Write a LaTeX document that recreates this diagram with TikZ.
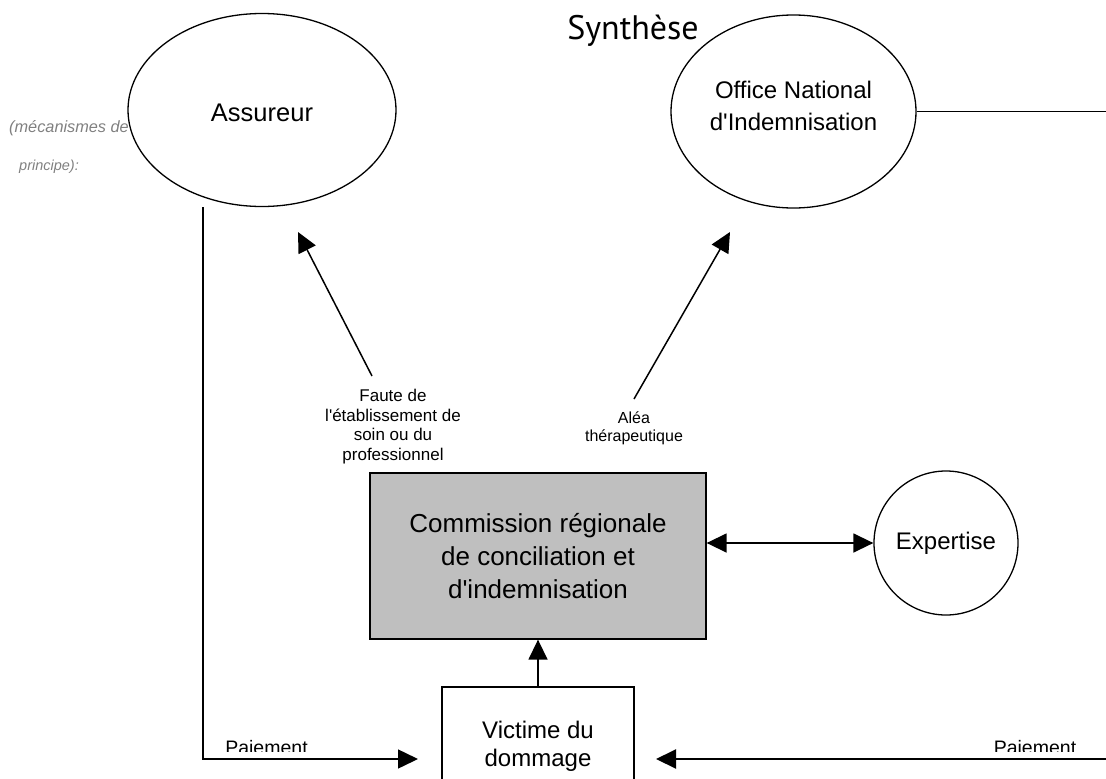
\documentclass[tikz,border=0pt]{standalone}
\usepackage{fontspec}
\setmainfont{Liberation Sans}[Ligatures=TeXOff]
\newfontfamily\synfont{PT Sans}
\usetikzlibrary{shapes.geometric,arrows.meta}
\begin{document}
\begin{tikzpicture}[x=1pt,y=-1pt,
  shp/.style={draw, line width=1.3pt, fill=white, inner sep=0pt, align=center},
  conn/.style={line width=1.5pt},
  arr/.style={conn, -{Triangle[length=20pt,width=19pt]}},
  darr/.style={conn, {Triangle[length=20pt,width=19pt]}-{Triangle[length=20pt,width=19pt]}},
  lbl/.style={align=center, inner sep=0pt},
  note/.style={inner sep=0pt, text=gray, font=\itshape\fontsize{14.5}{17}\selectfont}
]
\useasboundingbox (0,0) rectangle (1106,779);
\clip (0,0) rectangle (1106,779);

% side note (partly hidden by the ellipse)
\node[note, anchor=base east, font=\itshape\fontsize{16.3}{18}\selectfont] (mec) at (129,132) {(mécanismes de};
\node[note, anchor=base west] (pri) at (19,170) {principe):};

% title
\node[inner sep=0pt, font=\synfont\fontsize{34}{40}\selectfont] (syn) at (633,31) {Synthèse};

% main shapes
\node[shp, ellipse, minimum width=268, minimum height=193] (ass) at (262,110) {};
\node[lbl, font=\fontsize{25.5}{32}\selectfont] (asst) at (262,113) {Assureur};
\node[shp, ellipse, minimum width=245, minimum height=193] (oni) at (793.5,111.5) {};
\node[lbl, font=\fontsize{24}{32}\selectfont] (onit) at (793.5,106) {Office National\\d'Indemnisation};
\node[shp, fill=gray!50, minimum width=336, minimum height=166, font=\fontsize{26}{33}\selectfont] (crci) at (538,556) {Commission régionale\\de conciliation et\\d'indemnisation};
\node[shp, circle, minimum size=144, font=\fontsize{24}{30}\selectfont] (exp) at (946,543) {Expertise};
\node[shp, minimum width=192, minimum height=114, font=\fontsize{24}{28}\selectfont] (vic) at (538,744) {};
\node[lbl, font=\fontsize{24}{28}\selectfont] (vict) at (538,746) {Victime du\\dommage};

% labels
\begin{scope}
\clip (300,380) rectangle (490,463);
\node[lbl, font=\fontsize{17}{19.7}\selectfont] (faute) at (393,426.5) {Faute de\\l'établissement de\\soin ou du\\professionnel};
\end{scope}
\node[lbl, font=\fontsize{16}{18}\selectfont] (alea) at (634,428) {Aléa\\thérapeutique};
\begin{scope}
\clip (150,700) rectangle (1106,751);
\node[inner sep=0pt, anchor=base, font=\fontsize{19.5}{22}\selectfont] (pay1) at (266.5,754) {Paiement};
\node[inner sep=0pt, anchor=base, font=\fontsize{19.5}{22}\selectfont] (pay2) at (1035,754) {Paiement};
\end{scope}

% free end points
\coordinate (fstart) at (372,376);
\coordinate (fend) at (298,232);
\coordinate (astart) at (634,399);
\coordinate (aend) at (730,232);
\coordinate (pstart) at (203,207);
\coordinate (pend) at (418,759);
\coordinate (rstart) at (1110,759);
\coordinate (rend) at (656,759);
\coordinate (oend) at (1110,111.5);

% connectors
\draw[arr] (fstart) -- (fend);
\draw[arr] (astart) -- (aend);
\draw[arr] (vic.north) -- (crci.south);
\draw[darr] (crci.east |- exp.west) -- (exp.west);
\draw[arr] (pstart) |- (pend);
\draw[arr, line width=2pt] (rstart) -- (rend);
\draw[conn] (oni.east) -- (oend);
\end{tikzpicture}
\end{document}
